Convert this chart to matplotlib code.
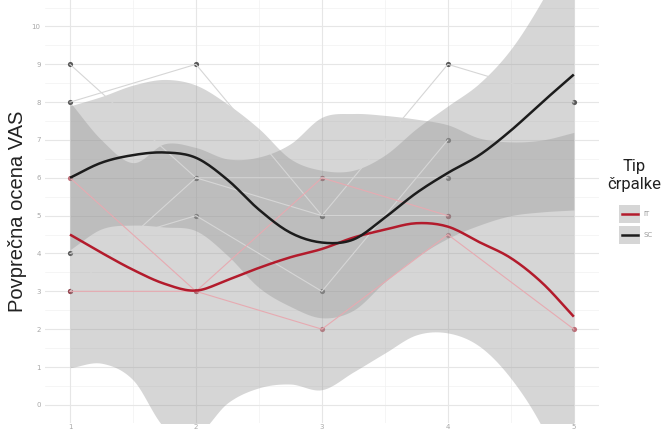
import numpy as np
import matplotlib
matplotlib.use('Agg')
from matplotlib import pyplot as plt
from matplotlib.patches import Rectangle
from matplotlib.lines import Line2D

# time points and the individual VAS scores per patient (nan = missing)
timepoints = [1, 2, 3, 4, 5]
sc_patients = [
    [8, 9, 5, 9, 8],
    [9, 6, 6, 6, np.nan],
    [4, 5, 3, 7, np.nan],
    [3, 6, 5, 5, np.nan],
]
it_patients = [
    [3, 3, 2, 4.5, 2],
    [6, 3, 6, 5, np.nan],
]

# smoothed group means with confidence band, read at quarter steps
grid_x = [1, 1.25, 1.5, 1.75, 2, 2.25, 2.5, 2.75, 3, 3.25, 3.5, 3.75, 4, 4.25, 4.5, 4.75, 5]
sc_fit = [6.0, 6.4, 6.6, 6.67, 6.53, 5.95, 5.16, 4.55, 4.29, 4.37, 4.95, 5.6, 6.13, 6.6, 7.25, 8.0, 8.73]
sc_hi = [7.9, 8.15, 8.45, 8.6, 8.45, 7.95, 7.3, 6.5, 6.2, 6.2, 6.6, 7.3, 7.9, 8.5, 9.4, 10.7, 12.3]
sc_lo = [4.1, 4.65, 4.75, 4.7, 4.6, 3.95, 3.1, 2.6, 2.3, 2.5, 3.25, 3.9, 4.4, 4.75, 5.0, 5.1, 5.15]
it_fit = [4.5, 4.02, 3.57, 3.2, 3.02, 3.3, 3.62, 3.9, 4.12, 4.42, 4.63, 4.8, 4.71, 4.3, 3.88, 3.22, 2.33]
it_hi = [8.0, 7.0, 6.4, 6.9, 6.8, 6.5, 6.55, 6.9, 7.6, 7.7, 7.65, 7.55, 7.4, 7.05, 6.95, 7.0, 7.2]
it_lo = [0.98, 1.1, 0.66, -0.6, -0.8, 0.05, 0.45, 0.55, 0.4, 0.87, 1.37, 1.85, 1.9, 1.55, 0.7, -0.6, -2.5]

groups = ['IT', 'SC']
ytick_vals = list(range(0, 11))
xtick_labels = ['1', '2', '3', '4', '5']


def spline(xs, ys, k=12):
    # catmull-rom curve through the given points (uniform x spacing)
    xs = np.asarray(xs, float)
    ys = np.asarray(ys, float)
    py = np.concatenate([[2*ys[0]-ys[1]], ys, [2*ys[-1]-ys[-2]]])
    t = np.linspace(0, 1, k, endpoint=False)
    ox, oy = [], []
    for i in range(len(xs)-1):
        p0, p1, p2, p3 = py[i], py[i+1], py[i+2], py[i+3]
        yy = 0.5*(2*p1 + (-p0+p2)*t + (2*p0-5*p1+4*p2-p3)*t**2 + (-p0+3*p1-3*p2+p3)*t**3)
        ox.extend(xs[i] + (xs[i+1]-xs[i])*t)
        oy.extend(yy)
    ox.append(xs[-1])
    oy.append(ys[-1])
    return np.array(ox), np.array(oy)


W, H = 665, 433
fig = plt.figure(figsize=(W/100, H/100), dpi=100)
ax = fig.add_axes([44.8/W, 10/H, (599-44.8)/W, 423/H])
ax.set_xlim(0.8, 5.2)
ax.set_ylim(-0.48, 10.7)

# minimal theme grid
for v in np.arange(0.5, 10.6, 1.0):
    ax.axhline(v, color='#f2f2f2', lw=0.5, zorder=0)
for v in np.arange(1.5, 5.0, 1.0):
    ax.axvline(v, color='#f2f2f2', lw=0.5, zorder=0)
for v in ytick_vals:
    ax.axhline(v, color='#e6e6e6', lw=0.8, zorder=0)
for v in timepoints:
    ax.axvline(v, color='#e6e6e6', lw=0.8, zorder=0)

red = '#b31b2c'
dark = '#1c1c1c'

# patient points
for p in sc_patients:
    ax.scatter(timepoints, p, s=14, color='#3d3d3d', alpha=0.85, lw=0, zorder=1)
for p in it_patients:
    ax.scatter(timepoints, p, s=14, color='#b0404e', alpha=0.75, lw=0, zorder=1)

# confidence bands
for lo, hi in [(it_lo, it_hi), (sc_lo, sc_hi)]:
    bx, blo = spline(grid_x, lo)
    _, bhi = spline(grid_x, hi)
    ax.fill_between(bx, blo, bhi, color='#999999', alpha=0.4, lw=0, zorder=2)

# patient trajectories
for p in sc_patients:
    ax.plot(timepoints, p, color='#d6d6d6', lw=0.8, zorder=3)
for p in it_patients:
    ax.plot(timepoints, p, color='#e7aab1', lw=0.8, zorder=3)

# smoothed means
fx, fy = spline(grid_x, it_fit)
ax.plot(fx, fy, color=red, lw=1.8, zorder=4, solid_capstyle='butt')
fx, fy = spline(grid_x, sc_fit)
ax.plot(fx, fy, color=dark, lw=1.8, zorder=4, solid_capstyle='butt')

for s in ax.spines.values():
    s.set_visible(False)
ax.set_xticks(timepoints)
ax.set_xticklabels(xtick_labels)
ax.set_yticks(ytick_vals)
ax.tick_params(length=0, labelsize=5, labelcolor='#a8a8a8', pad=3)
ax.tick_params(axis='x', pad=1)
ax.set_ylabel('Povprečna ocena VAS', fontsize=14.5, color='#222222',
              family=['Liberation Sans', 'DejaVu Sans'])
ax.yaxis.set_label_coords(-0.033, 0.5)

# legend
fig.text(634/W, 1-176/H, 'Tip\nčrpalke', ha='center', va='center', fontsize=12,
         color='#222222', linespacing=1.25, family=['Roboto', 'DejaVu Sans'])
key_cols = [red, dark]
for i, g in enumerate(groups):
    yc = 214 + i*21
    fig.add_artist(Rectangle(((619)/W, 1-(yc+9)/H), 21/W, 18/H, transform=fig.transFigure,
                             facecolor='#999999', alpha=0.4, lw=0))
    fig.add_artist(Line2D([622/W, 638/W], [1-yc/H, 1-yc/H], transform=fig.transFigure,
                          color=key_cols[i], lw=1.8))
    fig.text(643/W, 1-yc/H, g, ha='left', va='center', fontsize=5, color='#9a9a9a')

fig.savefig('out.png', dpi=100)
